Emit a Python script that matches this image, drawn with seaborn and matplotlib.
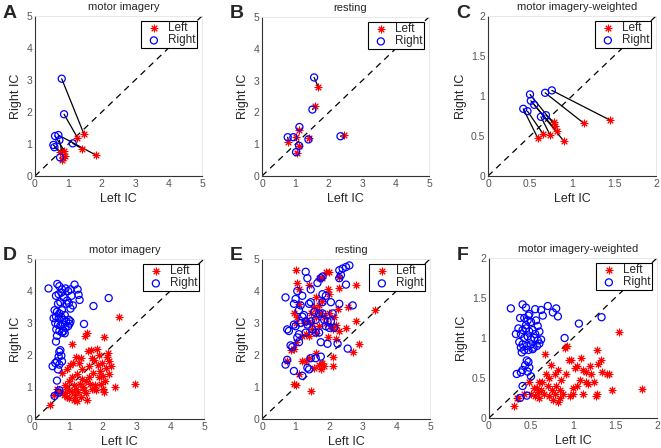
import numpy as np
import pandas as pd
import matplotlib
matplotlib.use("Agg")
import matplotlib.pyplot as plt
import seaborn as sns

# ---- panel A : motor imagery (pairs) ----
a_left_x = [1.47, 1.27, 1.83, 1.41, 0.88, 0.75, 0.85, 0.80, 0.90]
a_left_y = [1.30, 1.20, 0.65, 0.85, 0.78, 0.76, 0.55, 0.50, 0.62]
a_right_x = [0.80, 0.87, 0.70, 1.13, 0.60, 0.55, 0.73, 0.75, 0.58]
a_right_y = [3.04, 1.93, 1.28, 1.02, 1.25, 0.97, 1.12, 0.58, 0.90]

# ---- panel B : resting (pairs) ----
b_left_x = [1.68, 1.60, 1.12, 0.79, 1.02, 1.41, 1.11, 1.06, 2.46]
b_left_y = [2.81, 2.19, 1.44, 1.07, 1.22, 1.19, 0.94, 0.73, 1.28]
b_right_x = [1.56, 1.51, 1.12, 0.77, 0.94, 1.39, 1.11, 1.02, 2.35]
b_right_y = [3.10, 2.09, 1.54, 1.22, 1.22, 1.15, 0.95, 0.75, 1.25]

# ---- panel C : motor imagery-weighted (pairs) ----
c_left_x = [1.45, 1.14, 0.59, 0.66, 0.80, 0.82, 0.90, 0.74, 0.79]
c_left_y = [0.70, 0.66, 0.48, 0.52, 0.63, 0.56, 0.44, 0.51, 0.67]
c_right_x = [0.76, 0.68, 0.42, 0.47, 0.50, 0.51, 0.55, 0.63, 0.69]
c_right_y = [1.07, 1.04, 0.84, 0.81, 1.02, 0.94, 0.89, 0.74, 0.76]

# ---- panel D : motor imagery (all) ----
d_right_x = [0.40, 0.66, 0.72, 0.80, 0.90, 0.98, 1.17, 1.26, 1.29, 1.32, 1.05,
             0.62, 0.70, 0.78, 0.85, 0.95, 1.08, 1.12, 0.93, 1.00, 0.75, 0.68,
             0.58, 0.65, 0.72, 0.80, 0.88, 1.05, 0.55, 0.62, 0.70, 0.78, 0.85, 0.92, 1.00, 1.05,
             0.60, 0.68, 0.75, 0.83, 0.90, 0.98, 1.02, 0.63, 0.72, 0.80, 0.88, 0.85, 0.65, 0.62,
             1.45, 1.73, 2.18,
             0.75, 0.72, 0.70, 0.78, 0.65, 0.80, 0.72, 0.60, 0.68, 0.52, 0.65, 0.72, 0.70, 0.58]
d_right_y = [4.08, 4.22, 4.15, 4.05, 4.08, 4.00, 4.20, 4.05, 3.88, 3.72, 4.05,
             3.85, 3.90, 3.95, 3.80, 3.70, 3.85, 3.55, 3.60, 3.62, 3.65, 3.60,
             3.40, 3.35, 3.30, 3.40, 3.25, 3.45, 3.15, 3.20, 3.15, 3.18, 3.10, 3.05, 3.10, 3.05,
             3.00, 2.95, 2.92, 2.95, 2.85, 2.90, 2.98, 2.80, 2.75, 2.70, 2.68, 2.75, 2.60, 2.42,
             2.97, 3.53, 3.78,
             2.15, 2.10, 1.95, 1.98, 1.80, 1.80, 1.70, 1.75, 1.55, 1.65, 1.20, 0.90, 0.82, 0.72]
d_left_x = [0.45, 0.55, 0.65, 0.75, 0.80, 0.85, 0.90, 0.92, 0.95, 1.00, 1.02, 1.05, 1.08,
            1.10, 1.12, 1.15, 1.18, 1.20, 1.22, 1.25, 1.28, 1.30, 1.32, 1.35, 1.38, 1.40,
            1.42, 1.45, 1.48, 1.50, 1.52, 1.55, 1.55, 1.58, 1.60, 1.62, 1.65, 1.68, 1.70,
            1.72, 1.75, 1.78, 1.80, 1.82, 1.85, 1.88, 1.90, 1.92, 1.95, 1.98, 2.00, 2.02,
            2.05, 2.05, 2.08, 2.10, 2.12, 2.15, 2.18, 2.20, 2.25, 2.38, 2.48, 2.95, 1.25,
            1.00, 1.10, 0.95, 1.35, 1.60, 1.15, 0.88]
d_left_y = [0.45, 0.75, 0.95, 0.85, 1.45, 0.75, 0.80, 1.00, 0.70, 1.20, 0.90, 1.70, 2.35,
            0.85, 1.75, 1.05, 0.75, 1.95, 0.95, 1.40, 0.85, 1.75, 1.10, 0.70, 1.55, 1.25,
            1.00, 0.90, 2.60, 0.80, 1.20, 2.68, 0.60, 2.12, 1.65, 1.10, 2.15, 0.95, 1.90,
            1.45, 1.85, 1.05, 0.90, 2.20, 1.70, 1.30, 2.00, 1.50, 1.10, 1.75, 1.35, 0.95,
            2.55, 0.85, 1.20, 1.60, 1.95, 2.05, 1.40, 1.80, 1.65, 1.00, 3.20, 1.08, 0.55,
            0.65, 1.30, 1.55, 1.90, 1.30, 0.60, 1.05]

# ---- panel E : resting (all) ----
e_left_x = [1.00, 1.05, 1.10, 1.40, 1.90, 2.00, 2.30, 2.30, 2.80, 1.70, 1.80, 1.95, 2.00,
            2.55, 3.35, 2.80, 2.50, 2.90, 2.70, 2.10, 2.10, 1.45, 0.95, 1.00, 0.85, 0.95,
            1.10, 1.20, 1.30, 1.40, 1.60, 1.70, 1.75, 1.80, 1.85, 1.55, 1.20, 1.30, 1.40,
            1.50, 1.60, 1.50, 1.55, 1.65, 1.70, 1.75, 1.80, 1.85, 1.90, 2.00, 2.05, 2.10,
            2.15, 2.20, 2.30, 2.25, 1.00, 1.05, 0.95, 1.10, 1.60, 1.35, 1.45, 1.25, 0.75,
            2.20, 1.95, 1.70, 1.60, 1.00]
e_left_y = [4.65, 4.25, 4.05, 4.20, 4.60, 4.60, 4.45, 4.10, 4.20, 4.40, 4.40, 4.05, 3.90,
            3.50, 3.40, 3.05, 2.85, 2.35, 2.10, 1.95, 1.65, 0.87, 1.10, 1.05, 2.15, 2.20,
            1.40, 1.80, 1.80, 1.90, 2.05, 1.70, 1.55, 1.75, 1.65, 1.60, 2.60, 2.65, 2.60,
            2.80, 2.70, 3.00, 3.50, 3.40, 3.55, 3.30, 3.70, 3.20, 3.00, 3.30, 2.90, 2.80,
            3.20, 2.95, 2.75, 3.45, 3.00, 3.20, 3.30, 3.60, 3.80, 3.10, 3.30, 3.00, 1.80,
            2.50, 2.55, 2.90, 3.20, 2.40]
e_right_x = [0.70, 0.75, 0.80, 0.85, 0.90, 0.95, 1.00, 0.95, 1.00, 1.05, 1.10, 1.15, 1.20,
             1.30, 1.35, 1.45, 1.40, 1.45, 1.65, 1.75, 1.80, 1.80, 1.90, 2.05, 2.30, 2.30,
             2.40, 2.50, 2.60, 2.35, 2.50, 2.30, 2.70, 2.55, 2.25, 1.95, 1.75, 1.90, 1.95,
             2.00, 1.85, 1.80, 1.70, 1.55, 1.60, 1.45, 1.35, 1.30, 1.25, 1.20, 1.15, 1.10,
             1.05, 1.10, 1.30, 1.50, 1.60, 1.70, 2.10, 2.05, 0.70, 0.75, 0.95, 1.20, 1.35,
             1.40, 1.45, 1.60, 1.75, 1.80, 2.15]
e_right_y = [3.80, 2.80, 2.75, 2.30, 2.25, 2.95, 2.90, 3.60, 3.75, 4.00, 3.40, 3.55, 3.85,
             4.60, 4.40, 4.05, 3.60, 3.65, 4.25, 4.40, 4.45, 3.90, 3.85, 3.65, 3.60, 4.65,
             4.70, 4.75, 4.80, 4.50, 4.20, 4.40, 3.55, 2.20, 2.35, 2.35, 2.40, 2.90, 3.05,
             2.85, 3.10, 3.30, 3.30, 3.35, 3.10, 3.05, 2.95, 3.05, 3.25, 3.20, 3.00, 2.65,
             2.55, 2.40, 2.70, 2.80, 2.70, 2.70, 3.30, 3.05, 1.70, 1.85, 1.50, 1.35, 1.60,
             1.55, 1.90, 1.90, 1.95, 3.65, 2.85]

# ---- panel F : motor imagery-weighted (all) ----
f_right_x = [0.26, 0.40, 0.44, 0.48, 0.55, 0.62, 0.64, 0.70, 0.76, 0.80, 0.82,
             0.37, 0.42, 0.46, 0.50, 0.56, 0.58, 0.35, 0.40, 0.44, 0.48, 0.52, 0.55, 0.60,
             0.32, 0.38, 0.42, 0.46, 0.50, 0.54, 0.58, 0.62, 0.36, 0.40, 0.45, 0.50, 0.53,
             0.57, 0.60, 0.38, 0.42, 0.47, 0.52, 0.39, 0.44, 0.47,
             0.90, 1.07, 1.34,
             0.45, 0.47, 0.43, 0.48, 0.40, 0.46, 0.33, 0.38, 0.50, 0.40, 0.37, 0.45]
f_right_y = [1.37, 1.42, 1.38, 1.30, 1.36, 1.35, 1.28, 1.40, 1.32, 1.37, 1.27,
             1.25, 1.25, 1.22, 1.20, 1.22, 1.15, 1.12, 1.10, 1.12, 1.08, 1.10, 1.05, 1.08,
             1.05, 1.05, 1.00, 1.02, 0.98, 1.00, 0.97, 0.98, 0.95, 0.92, 0.90, 0.92, 0.88,
             0.90, 0.93, 0.88, 0.85, 0.85, 0.86, 0.82, 1.16, 1.28,
             1.00, 1.18, 1.26,
             0.72, 0.70, 0.66, 0.63, 0.60, 0.58, 0.55, 0.57, 0.52, 0.40, 0.25, 0.28]
f_left_x = [0.30, 0.33, 0.42, 0.48, 0.50, 0.53, 0.55, 0.58, 0.60, 0.62, 0.63, 0.65, 0.67,
            0.68, 0.70, 0.72, 0.74, 0.75, 0.76, 0.78, 0.79, 0.80, 0.82, 0.84, 0.85, 0.86,
            0.90, 0.93, 0.95, 0.97, 0.98, 1.00, 1.00, 1.02, 1.05, 1.05, 1.08, 1.10, 1.12,
            1.12, 1.15, 1.18, 1.20, 1.22, 1.25, 1.28, 1.28, 1.30, 1.33, 1.35, 1.40, 1.43,
            1.47, 1.55, 1.82, 0.88, 0.92, 0.57, 0.60, 0.35, 1.27, 1.15, 0.72, 0.82]
f_left_y = [0.15, 0.25, 0.30, 0.45, 0.30, 0.38, 0.28, 0.32, 0.25, 0.35, 0.45, 0.30, 0.80,
            0.55, 0.40, 0.28, 0.66, 0.35, 0.22, 0.55, 0.30, 0.40, 0.60, 0.25, 0.35, 0.48,
            0.88, 0.90, 0.72, 0.28, 0.72, 0.38, 0.30, 0.62, 0.65, 0.40, 0.48, 0.75, 0.30,
            0.60, 0.58, 0.42, 0.65, 0.55, 0.45, 0.85, 0.30, 0.68, 0.73, 0.58, 0.55, 0.55,
            0.35, 1.07, 0.36, 0.30, 0.55, 0.38, 0.45, 0.25, 0.28, 0.45, 0.50, 0.20]

panels = [
    ("A", "motor imagery", 5, a_left_x, a_left_y, a_right_x, a_right_y, True),
    ("B", "resting", 5, b_left_x, b_left_y, b_right_x, b_right_y, True),
    ("C", "motor imagery-weighted", 2, c_left_x, c_left_y, c_right_x, c_right_y, True),
    ("D", "motor imagery", 5, d_left_x, d_left_y, d_right_x, d_right_y, False),
    ("E", "resting", 5, e_left_x, e_left_y, e_right_x, e_right_y, False),
    ("F", "motor imagery-weighted", 2, f_left_x, f_left_y, f_right_x, f_right_y, False),
]

sns.set_style("white")
plt.rcParams['font.family'] = ['Liberation Sans', 'DejaVu Sans']

fig = plt.figure(figsize=(6.61, 4.48), dpi=100)
W, H = 661, 448
# axes boxes in pixels: left, top, right, bottom
boxes = [(35, 16, 202, 176), (262, 17, 429, 176), (488, 16, 656, 176),
         (35, 259, 204, 419), (262, 259, 430, 419), (489, 258, 657, 418)]

asterisk = (8, 2, 0)

for (letter, title, lim, lx, ly, rx, ry, paired), (x0, y0, x1, y1) in zip(panels, boxes):
    ax = fig.add_axes([x0 / W, 1 - y1 / H, (x1 - x0) / W, (y1 - y0) / H])
    ax.plot([0, lim], [0, lim], ls=(0, (5, 4)), color="black", lw=0.9, zorder=1)
    if paired:
        for i in range(len(lx)):
            ax.plot([lx[i], rx[i]], [ly[i], ry[i]], color="black", lw=0.9, zorder=2)
    left = pd.DataFrame({"x": lx, "y": ly})
    right = pd.DataFrame({"x": rx, "y": ry})
    sns.scatterplot(data=left, x="x", y="y", ax=ax, marker=asterisk, s=24, color="red",
                    edgecolor="red", linewidth=0.75, label="Left", zorder=3)
    sns.scatterplot(data=right, x="x", y="y", ax=ax, marker="o", s=26, facecolor="none",
                    edgecolor="blue", linewidth=0.9, label="Right", zorder=3)
    ax.set_xlim(0, lim)
    ax.set_ylim(0, lim)
    if lim == 5:
        ticks = [0, 1, 2, 3, 4, 5]
        labels = ["0", "1", "2", "3", "4", "5"]
    else:
        ticks = [0, 0.5, 1, 1.5, 2]
        labels = ["0", "0.5", "1", "1.5", "2"]
    ax.set_xticks(ticks)
    ax.set_yticks(ticks)
    ax.set_xticklabels(labels)
    ax.set_yticklabels(labels)
    ax.tick_params(direction="in", length=3, width=0.6, labelsize=7.5,
                   colors="#333333", labelcolor="#555555", pad=2)
    for s in ["left", "bottom"]:
        ax.spines[s].set_color("#333333")
        ax.spines[s].set_linewidth(0.8)
    for s in ["top", "right"]:
        ax.spines[s].set_color("#e4e4e4")
        ax.spines[s].set_linewidth(0.6)
    ax.set_xlabel("Left IC", fontsize=9, labelpad=3)
    ax.set_ylabel("Right IC", fontsize=9, labelpad=3)
    ax.set_title(title, fontsize=8, pad=4)
    ax.title.set_x(0.53)
    leg = ax.legend(loc="upper right", fontsize=8.5, frameon=True, fancybox=False,
                    borderpad=0.15, handletextpad=0.3, labelspacing=0.0,
                    handlelength=1.8, borderaxespad=0.4)
    leg.get_frame().set_edgecolor("black")
    leg.get_frame().set_linewidth(0.8)
    leg.get_frame().set_alpha(1)
    leg.set_zorder(5)
    fig.text((x0 - 32) / W, 1 - (y0 - 3) / H, letter, fontsize=14, fontweight="bold",
             ha="left", va="center")

fig.savefig("out.png", dpi=100)
